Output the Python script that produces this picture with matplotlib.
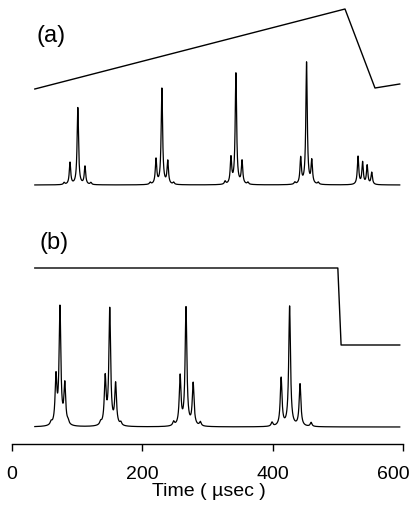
import numpy as np
import matplotlib
matplotlib.use('Agg')
import matplotlib.pyplot as plt
from matplotlib.transforms import ScaledTranslation

plt.rcParams['font.family'] = ['Liberation Sans', 'DejaVu Sans']

# ---- data (time in microseconds, intensities in arbitrary units) ----
# panel (a): ramp waveform
ramp_a_time = [35, 511, 557, 595]
ramp_a_level = [0, 80, 1, 5]
# panel (a): spectrum peaks
peaks_a_time = [80, 89, 101, 112, 121,
                212, 221, 230, 239, 248,
                327, 336, 343.6, 353, 362,
                434, 443, 452, 460, 470,
                531, 538, 545, 552]
peaks_a_height = [2, 22, 77, 18, 2,
                  2, 25, 96, 23, 2,
                  3, 26, 111, 23, 2,
                  2, 26, 122, 23, 2,
                  28, 22, 19, 12]
# panel (b): step waveform
step_b_time = [35, 500, 505, 595]
step_b_level = [77, 77, 0, 0]
# panel (b): spectrum peaks
peaks_b_time = [60, 67.5, 73.6, 81, 86,
                136, 143, 150, 159, 167,
                248, 258, 267, 278, 289,
                399, 413, 426, 442, 459]
peaks_b_height = [3, 47, 117, 40, 3,
                  3, 47, 116, 41, 3,
                  4, 49, 118, 42, 4,
                  4, 48, 120, 42, 4]
trace_start, trace_end = 35, 595
xticks = [0, 200, 400, 600]
xticklabels = ['0', '200', '400', '600']

# ---- figure ----
W, H = 415, 512
fig = plt.figure(figsize=(W / 100, H / 100), dpi=100)
ax = fig.add_axes([12 / W, 68 / H, 391 / W, 444 / H])
ax.set_xlim(0, 600)
ax.set_ylim(0, 444)

def spectrum(times, heights, gamma):
    t = np.linspace(trace_start, trace_end, 6000)
    y = np.zeros_like(t)
    for t0, h in zip(times, heights):
        y += h * gamma**2 / ((t - t0)**2 + gamma**2)
    return t, y

lw = 1.0
# panel (a)
ax.plot(ramp_a_time, np.array(ramp_a_level) + 355, color='black', lw=lw)
t, y = spectrum(peaks_a_time, peaks_a_height, 1.3)
ax.plot(t, y + 259, color='black', lw=0.9)
# panel (b)
ax.plot(step_b_time, np.array(step_b_level) + 99, color='black', lw=lw)
t, y = spectrum(peaks_b_time, peaks_b_height, 1.6)
ax.plot(t, y + 17, color='black', lw=0.9)

ax.text(60, 408, '(a)', fontsize=17, ha='center', va='center')
ax.text(64, 201, '(b)', fontsize=17, ha='center', va='center')

for s in ['top', 'left', 'right']:
    ax.spines[s].set_visible(False)
ax.spines['bottom'].set_linewidth(1.0)
ax.set_yticks([])
ax.set_xticks(xticks)
ax.set_xticklabels(xticklabels)
ax.tick_params(axis='x', direction='out', length=5, width=1.0, pad=11, labelsize=14)
# keep the last label inside the figure, as in the reference
last = ax.get_xticklabels()[-1]
last.set_horizontalalignment('right')
last.set_transform(last.get_transform() + ScaledTranslation(7 / 100, 0, fig.dpi_scale_trans))

fig.text(209 / W, 1 - 491 / H, 'Time ( µsec )', fontsize=14, ha='center', va='center')

fig.savefig('out.png', dpi=100)
